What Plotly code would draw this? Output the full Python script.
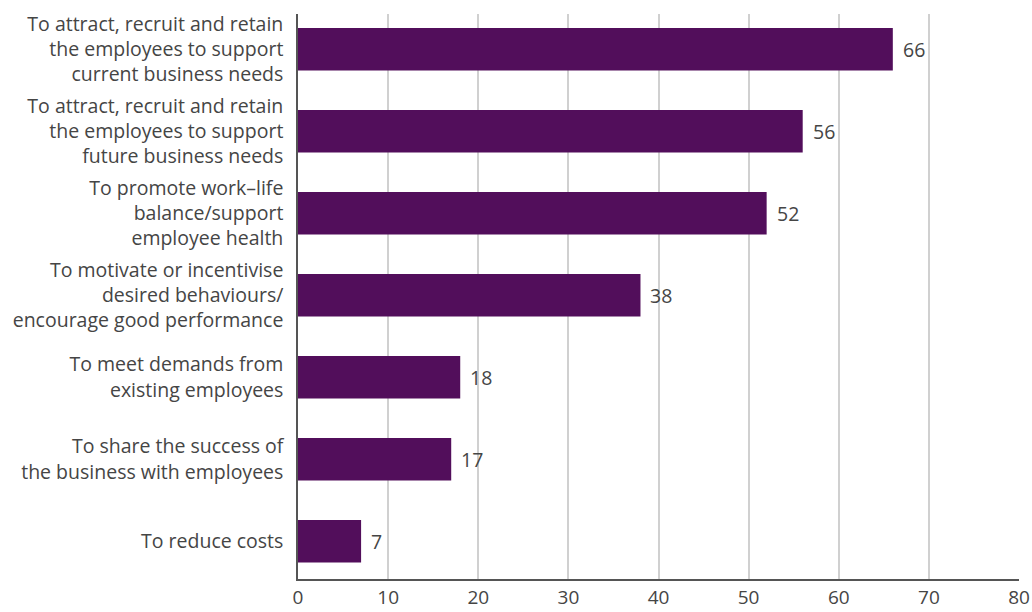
import plotly.graph_objects as go

categories = [
    "To attract, recruit and retain<br>the employees to support<br>current business needs",
    "To attract, recruit and retain<br>the employees to support<br>future business needs",
    "To promote work–life<br>balance/support<br>employee health",
    "To motivate or incentivise<br>desired behaviours/<br>encourage good performance",
    "To meet demands from<br>existing employees",
    "To share the success of<br>the business with employees",
    "To reduce costs",
]
values = [66, 56, 52, 38, 18, 17, 7]
x_ticks = [0, 10, 20, 30, 40, 50, 60, 70, 80]

BAR_COLOR = "#520E5B"
TEXT_COLOR = "#454545"
FONT = "Open Sans"
SIZE = 19.5

fig = go.Figure(
    go.Bar(
        x=values,
        y=categories,
        orientation="h",
        marker=dict(color=BAR_COLOR, line=dict(width=0)),
        width=0.52,
        hoverinfo="skip",
    )
)

# value labels just past the end of each bar
for cat, v in zip(categories, values):
    fig.add_annotation(
        x=v, y=cat, text=str(v), showarrow=False,
        xanchor="left", xshift=8,
        font=dict(family=FONT, size=SIZE, color=TEXT_COLOR),
    )

fig.update_layout(
    width=1032,
    height=612,
    margin=dict(l=298, r=13, t=14, b=33, autoexpand=False),
    plot_bgcolor="white",
    paper_bgcolor="white",
    showlegend=False,
    font=dict(family=FONT, size=SIZE, color=TEXT_COLOR),
)

fig.update_xaxes(
    range=[0, 80],
    tickvals=x_ticks,
    ticktext=[str(t) for t in x_ticks],
    showgrid=True,
    gridcolor="#d0d0d0",
    gridwidth=1.5,
    zeroline=False,
    showline=True,
    linecolor="#555555",
    linewidth=1.5,
    ticks="",
    automargin=False,
    tickfont=dict(family=FONT, size=19, color=TEXT_COLOR),
)

fig.update_yaxes(
    categoryorder="array",
    categoryarray=categories,
    range=[6.46, -0.43],
    showgrid=False,
    zeroline=False,
    showline=True,
    linecolor="#555555",
    linewidth=1.5,
    ticks="",
    ticklabelstandoff=9,
    automargin=False,
    tickfont=dict(family=FONT, size=SIZE, color=TEXT_COLOR),
)

fig.write_html("out.html")
